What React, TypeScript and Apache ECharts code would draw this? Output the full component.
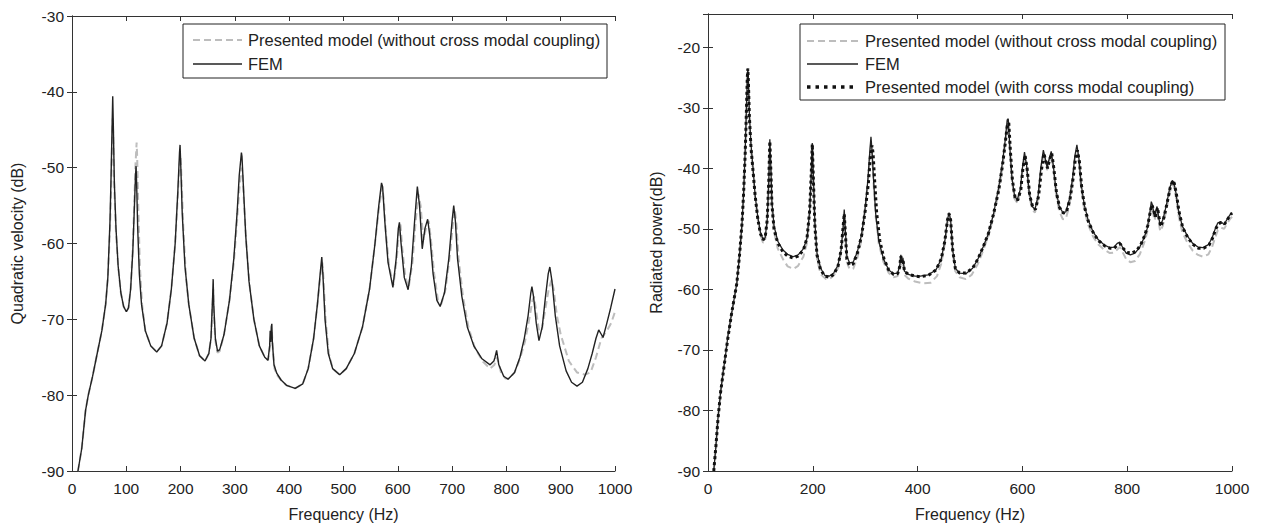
import React, { useEffect, useRef } from 'react';
import * as echarts from 'echarts';

type P = [number, number];

// ---------- Left panel: quadratic velocity (dB) ----------
const leftFEM: P[] = [
  [11,-90],[18,-87],[25,-82],[30,-80],[38,-77.5],[45,-75],[55,-71.5],[62,-68],[66,-64.5],[70,-57],[72,-51],[74,-44],[75,-40.6],[76,-44],[78,-52],[81,-58],[85,-63],[90,-66.5],[95,-68.3],[100,-69],[104,-68.5],[108,-66],[112,-61],[115,-55],[117,-51],[118,-49.8],[119,-52],[121,-58],[124,-64],[128,-68],[135,-71.5],[145,-73.5],[156,-74.3],[165,-73.5],[175,-70.5],[183,-66],[190,-60],[195,-53],[198,-48],[199,-47],[200,-49],[203,-56],[208,-63],[215,-68],[225,-72.5],[235,-74.8],[245,-75.5],[252,-74.5],[256,-72.5],[259,-67],[260,-64.7],[261,-68],[264,-72.5],[268,-74.2],[272,-74],[280,-72],[290,-67.5],[298,-62],[304,-56],[308,-51],[312,-48],[313,-48.5],[316,-53],[320,-59],[326,-65],[335,-70],[345,-73.5],[355,-75],[361,-75.4],[364,-73.5],[365,-71.5],[366,-73],[367,-71],[368,-70.6],[369,-73],[372,-76],[377,-77.1],[385,-78],[395,-78.7],[411,-79.1],[425,-78.5],[435,-76.5],[445,-72.5],[452,-68],[457,-64],[460,-61.8],[462,-64],[466,-70],[472,-74.5],[480,-76.5],[493,-77.3],[505,-76.5],[520,-74.5],[535,-71],[548,-66],[558,-60],[565,-55],[570,-52],[572,-52.5],[576,-57],[582,-62.5],[591,-65.8],[597,-62],[601,-58],[603,-57.2],[606,-60],[612,-64.5],[619,-66.1],[625,-63],[631,-57],[636,-52.5],[640,-55],[645,-60.7],[650,-58],[655,-56.8],[659,-59],[665,-64],[672,-67.5],[678,-68.3],[686,-66.5],[694,-62],[700,-57],[703,-55],[706,-57],[710,-62],[718,-67],[728,-71],[740,-73.5],[755,-75.2],[770,-76],[777,-75.5],[779,-75],[782,-74.1],[786,-76],[795,-77.5],[803,-77.9],[815,-77],[825,-75],[833,-72.5],[840,-69.5],[845,-66.5],[847,-65.7],[850,-67],[855,-70.5],[860,-72.8],[866,-71],[872,-67],[877,-64],[880,-63.1],[884,-65],[890,-69.5],[898,-73.5],[910,-76.8],[920,-78.3],[930,-78.8],[940,-78.3],[950,-76.5],[958,-74.5],[965,-72.5],[970,-71.4],[975,-72],[978,-72.4],[985,-70.5],[992,-68.5],[1000,-66]
];

const leftModel: P[] = [
  [11,-90],[18,-87],[25,-82],[30,-80],[38,-77.5],[45,-75],[55,-71.5],[62,-68],[66,-64.5],[70,-58],[72,-53],[74,-46],[75,-43.5],[76,-46],[78,-53],[81,-58.5],[85,-63],[90,-66.5],[95,-68.3],[100,-69],[104,-68.5],[108,-66],[112,-60.5],[115,-54],[117,-49.5],[119,-46.7],[120,-48.5],[122,-55],[125,-63],[129,-68],[135,-71.5],[145,-73.5],[156,-74.3],[165,-73.5],[175,-70.5],[183,-66],[190,-60],[195,-53.5],[198,-49.5],[200,-48.5],[202,-52],[205,-58],[210,-64.5],[215,-68],[225,-72.5],[235,-74.8],[245,-75.5],[252,-74.5],[256,-72.5],[259,-68],[260,-66],[261,-69],[264,-72.8],[268,-74.4],[272,-74.2],[280,-72],[290,-67.5],[298,-62.5],[304,-57],[308,-53],[312,-50],[314,-50.5],[317,-55],[321,-60],[327,-65.5],[335,-70],[345,-73.5],[355,-75],[361,-75.4],[364,-74],[366,-72.5],[368,-71.5],[370,-74],[373,-76.5],[377,-77.3],[385,-78],[395,-78.7],[411,-79.1],[425,-78.5],[435,-76.5],[445,-72.5],[452,-68],[457,-64.5],[461,-62.5],[463,-64.5],[467,-70],[473,-74.5],[480,-76.5],[493,-77.3],[505,-76.5],[520,-74.5],[535,-71],[548,-66],[558,-60],[565,-55.5],[571,-52.5],[574,-54],[578,-58.5],[584,-63],[592,-65.5],[598,-62],[602,-58.5],[605,-57.5],[608,-60.5],[614,-64.5],[620,-65.8],[627,-62.5],[633,-57],[638,-53.5],[642,-55],[647,-59.5],[652,-58],[657,-57],[661,-59.5],[667,-64],[674,-67.5],[680,-68],[688,-66],[696,-61.5],[702,-57],[705,-55.5],[708,-57.5],[712,-62],[720,-67],[730,-71],[742,-73.8],[757,-75.6],[770,-76.5],[778,-76],[782,-75],[785,-75.5],[790,-77],[798,-77.8],[806,-77.8],[815,-77],[825,-75.2],[834,-73],[842,-70],[848,-67.5],[851,-67],[854,-68.5],[860,-71.5],[865,-71.5],[872,-68.5],[878,-66],[883,-64.8],[887,-66],[893,-69.5],[900,-72],[915,-75.5],[930,-77],[945,-77.3],[955,-77],[965,-75],[975,-72.5],[985,-71.5],[993,-70.5],[1000,-69]
];

// ---------- Right panel: radiated power (dB) ----------
const rightFEM: P[] = [
  [11,-90],[15,-86],[19,-81.3],[24,-77],[29,-73.6],[34,-70.5],[38,-67.7],[45,-64],[50,-61.5],[55,-59],[60,-54.5],[65,-49],[68,-44],[71,-37],[73,-31],[75,-25],[76,-23.5],[77,-25],[79,-31],[82,-36],[86,-40],[90,-44.5],[95,-48],[100,-50.5],[105,-51.7],[109,-51.5],[113,-48.5],[116,-42],[118,-35.2],[120,-40],[122,-45.5],[126,-49.5],[133,-52],[143,-53.5],[152,-54.2],[163,-54.6],[172,-54.3],[182,-53.3],[189,-51.5],[194,-47],[197,-41],[199,-35.8],[201,-41],[204,-49],[208,-54],[215,-56.5],[223,-57.7],[232,-57.8],[240,-57.3],[248,-56],[254,-53.5],[258,-49.5],[260,-46.8],[262,-50],[265,-54.5],[270,-55.6],[277,-55.5],[285,-53.8],[293,-51],[300,-46.5],[305,-42],[309,-37],[311,-34.8],[313,-37],[316,-42],[320,-47.5],[326,-52],[335,-55],[345,-56.8],[354,-57.4],[362,-57.3],[366,-56],[368,-54.3],[370,-55.5],[372,-54.8],[375,-57],[382,-57.5],[395,-57.8],[405,-57.8],[420,-57.6],[435,-56.8],[445,-55],[452,-52],[457,-48.5],[460,-47.3],[463,-48.5],[467,-53.5],[472,-56.5],[480,-57.3],[492,-57.4],[505,-56.5],[515,-55],[525,-53],[535,-50.8],[545,-47.5],[555,-43],[562,-39],[567,-35.5],[571,-32],[573,-31.8],[576,-36.5],[580,-41.5],[585,-44.5],[590,-45.2],[596,-43.5],[600,-40],[604,-37.3],[608,-39.5],[613,-44],[619,-46.3],[624,-46.8],[630,-44.5],[635,-40],[640,-37],[644,-38.5],[647,-39.8],[651,-38.5],[655,-37.2],[659,-39.5],[664,-43.5],[670,-46.2],[677,-47.3],[683,-47.2],[690,-45],[696,-41.5],[700,-38],[704,-36.1],[708,-38.5],[712,-42.5],[718,-46],[725,-48.4],[735,-50.5],[745,-51.8],[757,-52.7],[767,-53.1],[775,-53],[781,-52.4],[786,-52.2],[791,-53],[798,-54],[806,-54.3],[815,-54],[824,-53],[832,-51.5],[838,-50],[843,-47.5],[846,-45.5],[848,-46],[852,-48],[857,-46.3],[860,-48],[863,-49.5],[868,-48.5],[875,-46],[881,-43.3],[886,-42],[889,-42.3],[893,-44],[898,-47],[905,-49.5],[915,-51.2],[925,-52.4],[935,-53],[945,-53.1],[955,-52.6],[962,-51.5],[968,-50],[973,-49],[979,-48.8],[985,-49.3],[990,-48.5],[996,-47.7],[1000,-47.3]
];

const rightModel: P[] = [
  [11,-90],[15,-86],[19,-81.3],[24,-77],[29,-73.6],[34,-70.5],[38,-67.7],[45,-64],[50,-61.5],[55,-59],[60,-54.5],[65,-49.5],[68,-44.5],[71,-38],[73,-32],[75,-26],[76,-24.5],[77,-26],[79,-32],[82,-36.8],[86,-40.8],[90,-45],[95,-48.5],[100,-51],[105,-52.3],[109,-52],[113,-49],[116,-42.5],[118,-35.8],[120,-41],[122,-46.5],[126,-50.5],[133,-53.2],[143,-55],[152,-56.2],[163,-56.6],[172,-56.1],[182,-54.6],[189,-52.3],[194,-47.5],[197,-41.5],[199,-36.5],[201,-42],[204,-50],[208,-55],[215,-57.5],[225,-58.3],[233,-58.2],[241,-57.6],[248,-56.5],[254,-54],[258,-50],[260,-48],[262,-51],[265,-55.5],[270,-56.6],[277,-56.6],[285,-54.8],[293,-51.8],[300,-47],[305,-42.5],[309,-37.5],[311,-36],[313,-37.5],[316,-42.5],[320,-48],[326,-52.5],[335,-55.5],[345,-57.3],[354,-58],[362,-57.8],[366,-56.5],[368,-55],[370,-56],[372,-55.5],[375,-57.6],[382,-58.2],[395,-58.7],[410,-59],[425,-58.9],[437,-57.8],[445,-55.8],[452,-52.5],[457,-49],[460,-47.6],[463,-49],[467,-54],[472,-57],[480,-58],[492,-58.3],[503,-57.6],[515,-55.8],[525,-53.6],[535,-51.2],[545,-48],[555,-43.8],[562,-39.8],[567,-36.2],[571,-33],[573,-32.8],[576,-37],[580,-42],[585,-45],[590,-45.7],[596,-44],[600,-40.5],[604,-38],[608,-40],[613,-44.5],[619,-46.9],[624,-47.3],[630,-45],[635,-40.5],[640,-37.6],[644,-39],[647,-40.3],[651,-39],[655,-37.8],[659,-40],[664,-44.2],[670,-47],[677,-48.4],[683,-48.3],[690,-46],[696,-42],[700,-38.5],[704,-37],[708,-39],[712,-43.2],[718,-46.8],[725,-49.2],[735,-51.3],[745,-52.6],[757,-53.5],[767,-54],[775,-53.9],[781,-53.4],[786,-53],[791,-53.8],[798,-55],[806,-55.5],[815,-55.3],[824,-54.2],[832,-52.4],[838,-50.6],[843,-48],[846,-46.5],[848,-46.8],[852,-48.6],[857,-47],[860,-48.8],[863,-50.4],[868,-49.5],[875,-46.8],[881,-44],[886,-42.6],[889,-43],[893,-44.8],[898,-47.8],[905,-50.5],[915,-52.3],[925,-53.6],[935,-54.3],[945,-54.6],[955,-54.2],[962,-53],[968,-51.4],[973,-50.2],[979,-49.8],[985,-50],[990,-49.2],[996,-48.4],[1000,-48]
];

const rightCoupled: P[] = [
  [11,-90],[15,-86],[19,-81.5],[24,-77],[29,-73.8],[34,-70.5],[38,-68],[45,-64],[50,-61.5],[55,-59],[60,-54.5],[65,-49],[68,-44],[71,-37.5],[73,-31.5],[75,-25],[76,-23.5],[77,-25.5],[79,-31.5],[82,-36.5],[86,-40.5],[90,-44.5],[95,-48.3],[100,-50.8],[105,-51.8],[109,-51.5],[113,-48.5],[116,-42],[118,-35.5],[120,-40.5],[122,-46],[126,-50],[133,-52.3],[143,-53.8],[152,-54.5],[163,-54.8],[172,-54.5],[182,-53.5],[189,-51.5],[194,-47],[197,-41],[199,-36],[201,-41.5],[204,-49.5],[208,-54.3],[215,-56.8],[223,-57.8],[232,-58],[240,-57.5],[248,-56.2],[254,-53.5],[258,-49.5],[260,-47.5],[262,-50.5],[265,-55],[270,-56],[277,-55.8],[285,-54],[293,-51.2],[300,-47],[306,-42.5],[310,-38],[313,-36.2],[315,-37.5],[318,-42],[322,-47.5],[328,-52],[336,-55],[345,-56.8],[354,-57.5],[362,-57.4],[366,-56.2],[368,-54.5],[370,-55.5],[372,-55],[375,-57],[382,-57.5],[395,-57.8],[405,-57.9],[420,-57.7],[435,-56.8],[445,-55],[452,-52],[457,-48.5],[460,-47.5],[463,-48.5],[467,-53.5],[472,-56.5],[480,-57.3],[492,-57.3],[505,-56.5],[515,-55],[525,-53],[535,-50.8],[545,-47.5],[555,-43.5],[562,-39.5],[567,-36],[571,-33],[574,-32.5],[577,-37],[581,-42],[586,-44.8],[591,-45.3],[597,-43.5],[601,-40],[605,-37.8],[609,-40],[614,-44.5],[620,-46.5],[625,-46.8],[631,-44.5],[636,-40.5],[641,-37.5],[645,-39],[648,-40],[652,-38.5],[656,-37.5],[660,-40],[665,-44],[671,-46.5],[678,-47.4],[684,-47.2],[691,-45],[697,-41.5],[701,-38.5],[705,-37],[709,-39],[713,-43],[719,-46.5],[726,-48.8],[736,-50.8],[746,-52],[757,-52.8],[767,-53.2],[775,-53.2],[781,-52.7],[787,-52.5],[792,-53.2],[800,-53.9],[809,-54],[818,-53.6],[826,-52.6],[833,-51.2],[839,-49.5],[844,-47.2],[847,-46],[850,-46.8],[854,-48],[858,-46.5],[861,-48.3],[864,-49.6],[869,-48.5],[876,-45.8],[882,-43.2],[887,-42],[890,-42.5],[894,-44.3],[899,-47.2],[906,-49.8],[916,-51.5],[926,-52.6],[936,-53.2],[946,-53.2],[956,-52.7],[963,-51.5],[969,-50],[974,-49.2],[980,-48.9],[986,-49.2],[991,-48.5],[996,-47.8],[1000,-47.4]
];

const legendLeft = ['Presented model (without cross modal coupling)', 'FEM'];
const legendRight = [
  'Presented model (without cross modal coupling)',
  'FEM',
  'Presented model (with corss modal coupling)',
];
const xTitle = 'Frequency (Hz)';
const yTitleLeft = 'Quadratic velocity (dB)';
const yTitleRight = 'Radiated power(dB)';

const FONT = "'Liberation Sans', Arial, sans-serif";
const INK = '#222';
const FRAME = '#333';
const GRAY = '#bdbdbd';

export default function App() {
  const ref = useRef<HTMLDivElement>(null);

  useEffect(() => {
    document.body.style.margin = '0';
    const chart = echarts.init(ref.current!, null, { renderer: 'svg' });

    const axisLine = { show: true, lineStyle: { color: FRAME, width: 1 } };
    const tick = { show: true, inside: true, length: 5, lineStyle: { color: FRAME, width: 1 } };
    const label = { show: true, color: INK, fontFamily: FONT, fontSize: 15.5, formatter: (v: number) => String(v) };

    const xAx = (grid: number, interval: number, pos: 'bottom' | 'top', showLabel: boolean) => ({
      type: 'value', gridIndex: grid, min: 0, max: 1000, interval, position: pos,
      axisLine, axisTick: tick, splitLine: { show: false },
      axisLabel: showLabel ? { ...label, margin: 9 } : { show: false },
      name: showLabel ? xTitle : '', nameLocation: 'middle', nameGap: 35,
      nameTextStyle: { color: INK, fontFamily: FONT, fontSize: 16 },
    });
    const yAx = (grid: number, max: number, pos: 'left' | 'right', showLabel: boolean, title: string, gap: number) => ({
      type: 'value', gridIndex: grid, min: -90, max, interval: 10, position: pos,
      axisLine, axisTick: tick, splitLine: { show: false },
      axisLabel: showLabel ? { ...label, margin: 8, showMaxLabel: max === -30 } : { show: false },
      name: showLabel ? title : '', nameLocation: 'middle', nameGap: gap, nameRotate: 90,
      nameTextStyle: { color: INK, fontFamily: FONT, fontSize: 16 },
    });

    const line = (name: string, data: P[], xi: number, yi: number, style: any, z: number) => ({
      type: 'line', name, data, xAxisIndex: xi, yAxisIndex: yi, showSymbol: false, symbol: 'none',
      lineStyle: style, z, silent: true, clip: true,
    });

    const legendBox = (x: number, y: number, w: number, h: number, rows: { y: number; text: string; style: any }[], lx1: number, lx2: number, tx: number) => ({
      type: 'group', z: 100,
      children: [
        { type: 'rect', shape: { x, y, width: w, height: h }, style: { fill: '#fff', stroke: INK, lineWidth: 1 } },
        ...rows.map((r) => ({ type: 'line', shape: { x1: lx1, y1: r.y, x2: lx2, y2: r.y }, style: { fill: null, ...r.style } })),
        ...rows.map((r) => ({ type: 'text', x: tx, y: r.y, style: { text: r.text, fill: INK, fontFamily: FONT, fontSize: 16.5, verticalAlign: 'middle', align: 'left' } })),
      ],
    });

    const gStyle = { stroke: GRAY, lineWidth: 2, lineDash: [7, 4] };
    const fStyle = { stroke: INK, lineWidth: 1.3 };
    const dStyle = { stroke: '#111', lineWidth: 3.5, lineDash: [3.5, 5] };

    chart.setOption({
      animation: false,
      backgroundColor: '#fff',
      grid: [
        { left: 72, top: 16, width: 543, height: 457 },
        { left: 708, top: 14, width: 524, height: 459 },
      ],
      xAxis: [xAx(0, 100, 'bottom', true), xAx(0, 100, 'top', false), xAx(1, 200, 'bottom', true), xAx(1, 200, 'top', false)],
      yAxis: [
        yAx(0, -30, 'left', true, yTitleLeft, 47),
        yAx(0, -30, 'right', false, '', 0),
        yAx(1, -14.5, 'left', true, yTitleRight, 44),
        yAx(1, -14.5, 'right', false, '', 0),
      ],
      series: [
        line(legendLeft[0], leftModel, 0, 0, { color: GRAY, width: 2, type: [7, 4] }, 2),
        line(legendLeft[1], leftFEM, 0, 0, { color: INK, width: 1.4, type: 'solid' }, 3),
        line(legendRight[0], rightModel, 2, 2, { color: GRAY, width: 2, type: [7, 4] }, 2),
        line(legendRight[1], rightFEM, 2, 2, { color: INK, width: 1.3, type: 'solid' }, 3),
        line(legendRight[2], rightCoupled, 2, 2, { color: '#111', width: 3, type: [3, 3] }, 4),
      ],
      graphic: [
        legendBox(183, 24, 424, 54, [
          { y: 40, text: legendLeft[0], style: gStyle },
          { y: 64, text: legendLeft[1], style: fStyle },
        ], 193, 242, 248),
        legendBox(800, 24, 425, 76, [
          { y: 41, text: legendRight[0], style: gStyle },
          { y: 64, text: legendRight[1], style: fStyle },
          { y: 87, text: legendRight[2], style: dStyle },
        ], 807, 858, 865),
      ],
    });

    return () => chart.dispose();
  }, []);

  return <div ref={ref} style={{ position: 'fixed', left: 0, top: 0, width: 1261, height: 527, background: '#fff' }} />;
}
